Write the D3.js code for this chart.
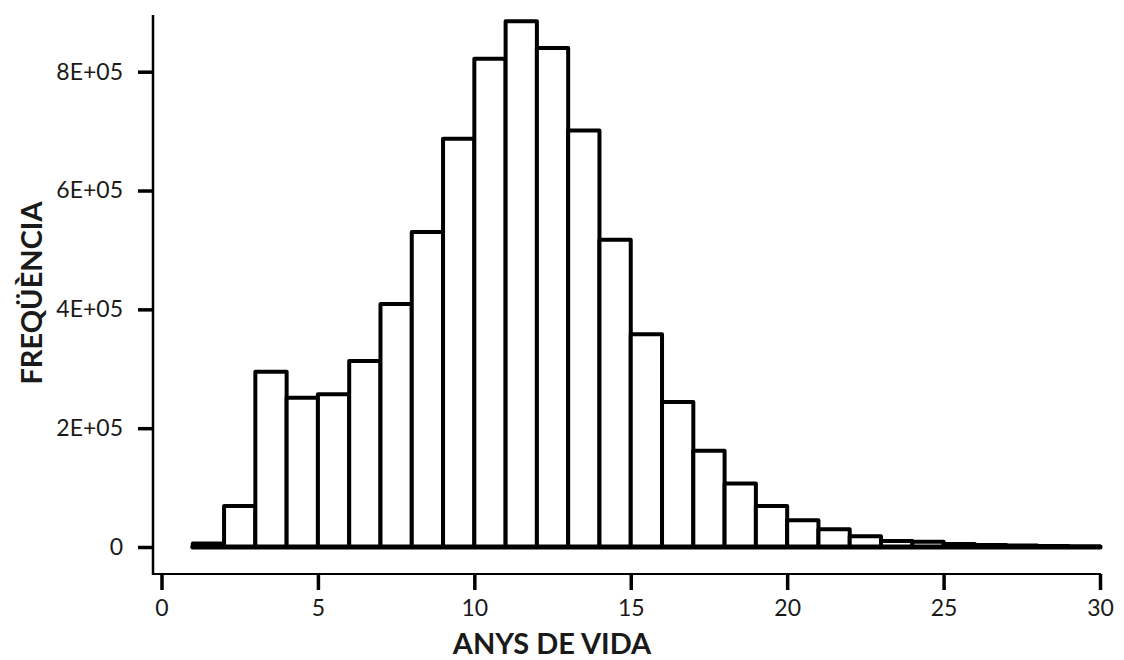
<!DOCTYPE html>
<html>
<head>
<meta charset="utf-8">
<script src="https://cdn.jsdelivr.net/npm/d3@7"></script>
<style>
  html, body { margin: 0; padding: 0; background: #fff; }
  svg { display: block; }
</style>
</head>
<body>
<script>
// ---- data ----
const binStarts = [1,2,3,4,5,6,7,8,9,10,11,12,13,14,15,16,17,18,19,20,21,22,23,24,25,26,27,28,29];
const frequencies = [6000,69000,295000,251000,257000,313000,409000,530000,687000,822000,885000,840000,701000,517000,358000,244000,162000,107000,69000,45000,30000,18000,10000,9000,5000,3500,2500,1500,1000];
const binWidth = 1;
const xTicks = [0,5,10,15,20,25,30];
const yTicks = [0,200000,400000,600000,800000];
const yTickLabels = ["0","2E+05","4E+05","6E+05","8E+05"];
const xTitle = "ANYS DE VIDA";
const yTitle = "FREQÜÈNCIA";

const W = 1124, H = 660;
const svg = d3.select("body").append("svg").attr("width", W).attr("height", H);

const x = d3.scaleLinear().domain([0, 30]).range([161.5, 1100]);
const y = d3.scaleLinear().domain([0, 800000]).range([547, 71.7]);

const font = "Lato, 'Open Sans', sans-serif";
const txt = "#1a1a1a";

// frame lines (L shape)
const axisLeftX = 153, axisBottomY = 574;
svg.append("line").attr("x1", axisLeftX).attr("x2", axisLeftX).attr("y1", 15).attr("y2", axisBottomY + 1)
  .attr("stroke", "#000").attr("stroke-width", 2.5);
svg.append("line").attr("x1", axisLeftX - 1).attr("x2", x(30) + 1).attr("y1", axisBottomY).attr("y2", axisBottomY)
  .attr("stroke", "#000").attr("stroke-width", 2);

// y axis
const yAxis = d3.axisLeft(y).tickValues(yTicks)
  .tickFormat((d, i) => yTickLabels[i]).tickSize(15).tickPadding(15);
const gy = svg.append("g").attr("transform", `translate(${axisLeftX},0)`).call(yAxis);
gy.select(".domain").remove();
gy.selectAll(".tick line").attr("stroke", "#000").attr("stroke-width", 3.5);
gy.selectAll(".tick text").attr("font-family", font).attr("font-size", 23).attr("fill", txt);

// x axis
const xAxis = d3.axisBottom(x).tickValues(xTicks).tickSize(16).tickPadding(10);
const gx = svg.append("g").attr("transform", `translate(0,${axisBottomY})`).call(xAxis);
gx.select(".domain").remove();
gx.selectAll(".tick line").attr("stroke", "#000").attr("stroke-width", 3.5);
gx.selectAll(".tick text").attr("font-family", font).attr("font-size", 23).attr("fill", txt);

// bars
svg.append("g").selectAll("rect").data(binStarts).join("rect")
  .attr("x", d => x(d))
  .attr("width", d => x(d + binWidth) - x(d))
  .attr("y", (d, i) => y(frequencies[i]))
  .attr("height", (d, i) => y(0) - y(frequencies[i]))
  .attr("fill", "#fff")
  .attr("stroke", "#000")
  .attr("stroke-width", 4)
  .attr("stroke-linejoin", "round");

// baseline
svg.append("line")
  .attr("x1", x(binStarts[0])).attr("x2", x(binStarts[binStarts.length - 1] + binWidth))
  .attr("y1", y(0)).attr("y2", y(0))
  .attr("stroke", "#000").attr("stroke-width", 5).attr("stroke-linecap", "round");

// titles
svg.append("text").attr("x", 552).attr("y", 654)
  .attr("text-anchor", "middle").attr("font-family", font).attr("font-weight", "bold")
  .attr("font-size", 29).attr("fill", txt).text(xTitle);
svg.append("text").attr("transform", "translate(42,293) rotate(-90)")
  .attr("text-anchor", "middle").attr("font-family", font).attr("font-weight", "bold")
  .attr("font-size", 29).attr("fill", txt).text(yTitle);
</script>
</body>
</html>
